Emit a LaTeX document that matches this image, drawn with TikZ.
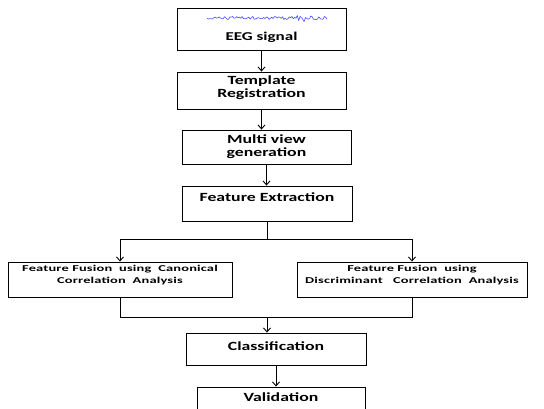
\documentclass[tikz,border=0pt]{standalone}
\usepackage{fontspec}
\setmainfont{Carlito}
\newfontfamily\wideface{Carlito}[FakeStretch=1.42]
\newfontfamily\widerface{Carlito}[FakeStretch=1.6]
\usepackage{tikz}
\usetikzlibrary{arrows.meta}

\begin{document}
\begin{tikzpicture}[x=1pt,y=-1pt,
		box/.style={draw=black,line width=0.9pt,rectangle,inner sep=0pt},
		big/.style={font=\wideface\fontsize{12.5}{13}\selectfont\bfseries,align=center},
		eegfont/.style={font=\wideface\fontsize{12}{13}\selectfont\bfseries},
		small/.style={font=\widerface\fontsize{9}{12.5}\selectfont\bfseries\addfontfeatures{LetterSpace=2},align=center},
		link/.style={draw=black,line width=0.9pt},
		arr/.style={link,-{Straight Barb[length=4pt,width=7pt]}}]
		\useasboundingbox (0,0) rectangle (544,409);
		\clip (0,0) rectangle (544,409);
		% stages
		\node [box,minimum width=169,minimum height=42,
			label={[eegfont,yshift=-8pt]center:EEG signal}] (eeg) at (261.5,29) {};
		\node [box,minimum width=169,minimum height=37,
			label={[big,yshift=3pt]center:Template\\Registration}] (tmpl) at (261.5,90.5) {};
		\node [box,big,minimum width=169,minimum height=34] (mview) at (266.5,147) {Multi view\\generation};
		\node [box,minimum width=170,minimum height=35,
			label={[big,yshift=6.5pt]center:Feature Extraction}] (fext) at (267,203.5) {};
		\node [box,minimum width=224,minimum height=35,
			label={[small,yshift=4.5pt]center:Feature Fusion \ using \ Canonical\\Correlation \ Analysis}] (cca) at (120,279.5) {};
		\node [box,minimum width=230,minimum height=35,
			label={[small,yshift=4.5pt]center:Feature Fusion \ using\\Discriminant \ \ Correlation \ Analysis}] (dca) at (412,279.5) {};
		\node [box,minimum width=180,minimum height=32,
			label={[big,yshift=3pt]center:Classification}] (cls) at (276,349) {};
		\node [box,minimum width=168,minimum height=40,
			label={[big,yshift=10pt]center:Validation}] (val) at (281,407) {};
		% eeg trace
		\pgfmathsetseed{7}
		\draw [blue!70!white,line width=0.6pt] plot [domain=207:327,samples=90,smooth]
			(\x,{18+1.6*rand+(\x>295)*(\x<318)*2.2*rand});
		% links
		\coordinate (split) at (267,239);
		\coordinate (merge) at (267,317);
		\draw [arr] (eeg.south) -- (eeg.south |- tmpl.north);
		\draw [arr] (tmpl.south) -- (tmpl.south |- mview.north);
		\draw [arr] (mview.south) -- (mview.south |- fext.north);
		\draw [link] (fext.south) -- (split);
		\draw [arr] (split) -| (cca.north);
		\draw [arr] (split) -| (dca.north);
		\draw [link] (cca.south) |- (merge);
		\draw [link] (dca.south) |- (merge);
		\draw [arr] (merge) -- (merge |- cls.north);
		\draw [arr] (cls.south) -- (cls.south |- val.north);
	\end{tikzpicture}
\end{document}
